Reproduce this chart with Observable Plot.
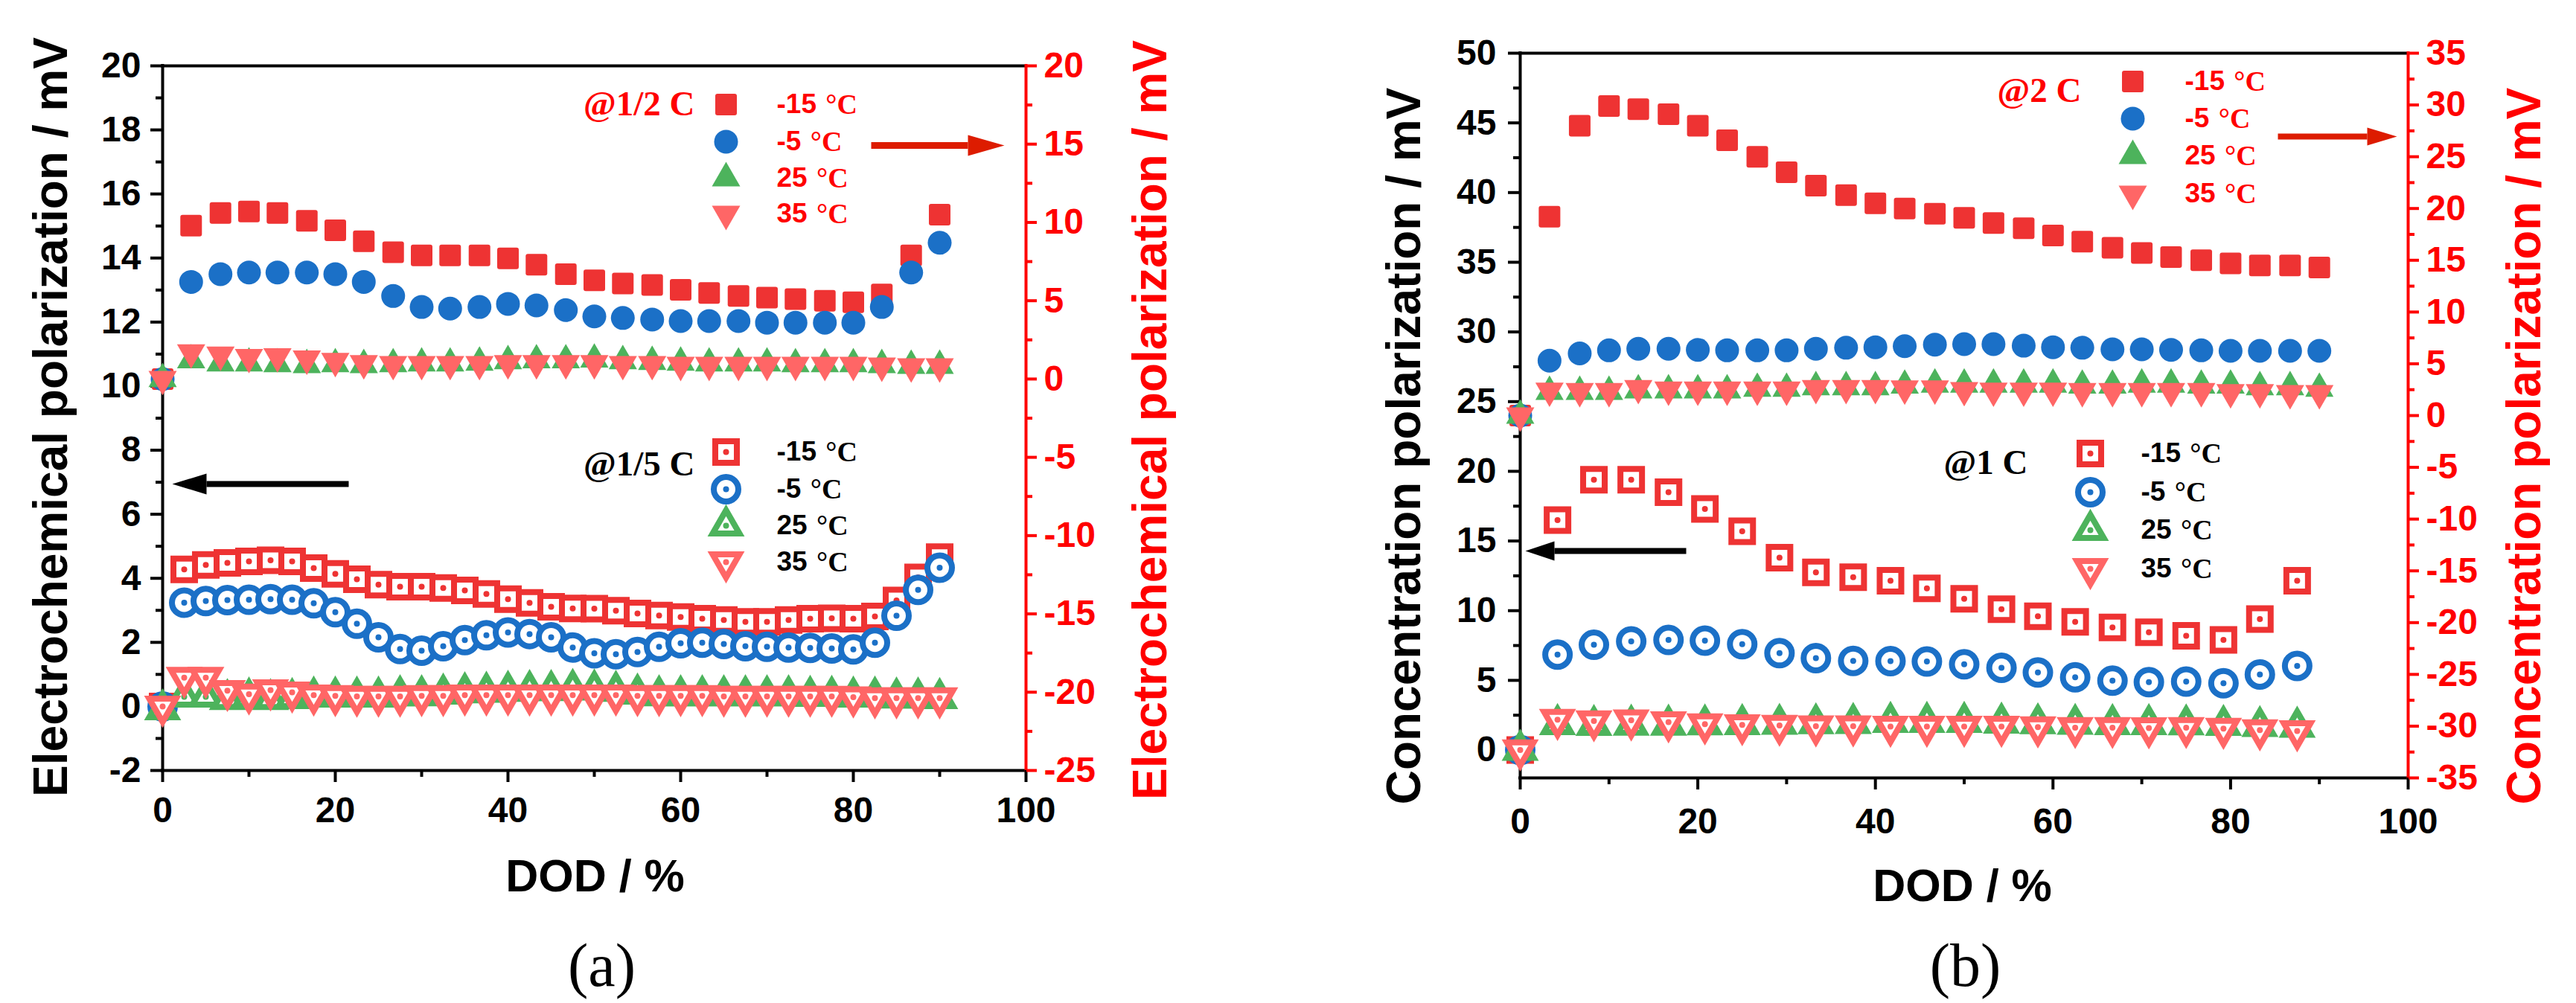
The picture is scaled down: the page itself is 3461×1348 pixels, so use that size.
<!DOCTYPE html>
<html>
<head>
<meta charset="utf-8">
<script src="https://cdn.jsdelivr.net/npm/d3@7"></script>
<script src="https://cdn.jsdelivr.net/npm/@observablehq/plot@0.6"></script>
<style>
  body { margin: 0; background: #fff; }
  #wrap { position: relative; width: 3461px; height: 1348px; }
  #a, #b { position: absolute; top: 0; }
  #a { left: 0; width: 1730px; }
  #b { left: 1730px; width: 1731px; }
</style>
</head>
<body>
<div id="wrap"><div id="a"></div><div id="b"></div></div>
<script>
// ---------- data ----------
// (a) @1/2 C, plotted on the right axis
const dodHalf = [0, 3.3, 6.7, 10, 13.3, 16.7, 20, 23.3, 26.7, 30, 33.3, 36.7, 40, 43.3, 46.7, 50, 53.3, 56.7, 60, 63.3, 66.7, 70, 73.3, 76.7, 80, 83.3, 86.7, 90]
const half_m15 = [0, 9.8, 10.6, 10.7, 10.6, 10.1, 9.5, 8.8, 8.1, 7.9, 7.9, 7.9, 7.7, 7.3, 6.7, 6.3, 6.1, 6.0, 5.7, 5.5, 5.3, 5.2, 5.1, 5.0, 4.9, 5.4, 7.9, 10.5]
const half_m5 = [0, 6.2, 6.7, 6.8, 6.8, 6.8, 6.7, 6.2, 5.3, 4.6, 4.5, 4.6, 4.8, 4.7, 4.4, 4.0, 3.9, 3.8, 3.7, 3.7, 3.7, 3.6, 3.6, 3.6, 3.6, 4.6, 6.8, 8.7]
const half_25 = [0, 1.2, 1.0, 1.0, 0.95, 0.9, 0.95, 0.9, 0.95, 1.0, 1.0, 1.05, 1.15, 1.2, 1.2, 1.25, 1.15, 1.1, 1.05, 1.0, 1.0, 1.0, 0.95, 0.95, 0.95, 0.9, 0.85, 0.85]
const half_35 = [0, 1.7, 1.55, 1.4, 1.45, 1.3, 1.15, 1.0, 0.95, 0.95, 0.95, 0.95, 1.0, 1.0, 1.0, 1.0, 0.95, 0.95, 0.9, 0.9, 0.9, 0.9, 0.9, 0.9, 0.9, 0.85, 0.8, 0.8]

// (a) @1/5 C, plotted on the left axis
const dodFifth = [0, 2.5, 5, 7.5, 10, 12.5, 15, 17.5, 20, 22.5, 25, 27.5, 30, 32.5, 35, 37.5, 40, 42.5, 45, 47.5, 50, 52.5, 55, 57.5, 60, 62.5, 65, 67.5, 70, 72.5, 75, 77.5, 80, 82.5, 85, 87.5, 90]
const fifth_m15 = [0, 4.28, 4.42, 4.48, 4.53, 4.56, 4.53, 4.32, 4.14, 3.97, 3.80, 3.74, 3.74, 3.70, 3.62, 3.51, 3.35, 3.23, 3.11, 3.06, 3.05, 2.99, 2.90, 2.84, 2.79, 2.74, 2.70, 2.64, 2.64, 2.70, 2.74, 2.75, 2.74, 2.81, 3.31, 4.03, 4.66]
const fifth_m5 = [0, 3.24, 3.29, 3.32, 3.33, 3.35, 3.33, 3.22, 2.94, 2.58, 2.16, 1.79, 1.74, 1.88, 2.07, 2.22, 2.31, 2.26, 2.16, 1.84, 1.66, 1.63, 1.70, 1.86, 1.97, 1.99, 1.95, 1.88, 1.86, 1.84, 1.83, 1.81, 1.78, 1.99, 2.83, 3.64, 4.33]
const fifth_25 = [-0.1, 0.3, 0.3, 0.22, 0.27, 0.22, 0.25, 0.3, 0.3, 0.3, 0.3, 0.34, 0.34, 0.39, 0.43, 0.45, 0.48, 0.5, 0.5, 0.54, 0.52, 0.48, 0.39, 0.34, 0.34, 0.34, 0.34, 0.34, 0.34, 0.34, 0.32, 0.32, 0.3, 0.3, 0.27, 0.27, 0.25]
const fifth_35 = [0, 0.9, 0.9, 0.49, 0.38, 0.51, 0.44, 0.35, 0.33, 0.31, 0.31, 0.31, 0.33, 0.33, 0.35, 0.35, 0.35, 0.35, 0.35, 0.35, 0.35, 0.35, 0.33, 0.33, 0.33, 0.33, 0.31, 0.31, 0.31, 0.31, 0.31, 0.31, 0.29, 0.26, 0.26, 0.26, 0.26]

// (b) @2 C, plotted on the right axis
const dod2C = [0, 3.3, 6.7, 10, 13.3, 16.7, 20, 23.3, 26.7, 30, 33.3, 36.7, 40, 43.3, 46.7, 50, 53.3, 56.7, 60, 63.3, 66.7, 70, 73.3, 76.7, 80, 83.3, 86.7, 90]
const c2_m15 = [0, 19.2, 28.0, 29.9, 29.6, 29.1, 28.0, 26.6, 25.0, 23.5, 22.2, 21.3, 20.5, 20.0, 19.5, 19.1, 18.6, 18.1, 17.4, 16.8, 16.2, 15.7, 15.3, 15.0, 14.7, 14.5, 14.5, 14.3]
const c2_m5 = [0, 5.3, 6.0, 6.3, 6.45, 6.45, 6.35, 6.3, 6.3, 6.3, 6.45, 6.55, 6.6, 6.7, 6.85, 6.9, 6.9, 6.75, 6.6, 6.55, 6.4, 6.4, 6.35, 6.3, 6.25, 6.25, 6.25, 6.25]
const c2_25 = [0, 2.3, 2.3, 2.3, 2.45, 2.45, 2.45, 2.45, 2.6, 2.6, 2.75, 2.75, 2.75, 2.9, 3.0, 3.0, 3.0, 3.0, 3.0, 2.9, 2.9, 3.0, 3.0, 2.9, 2.9, 2.75, 2.75, 2.6]
const c2_35 = [0, 2.4, 2.35, 2.35, 2.65, 2.5, 2.5, 2.5, 2.5, 2.5, 2.65, 2.65, 2.65, 2.6, 2.6, 2.45, 2.4, 2.4, 2.4, 2.35, 2.35, 2.35, 2.35, 2.35, 2.25, 2.25, 2.15, 2.15]

// (b) @1 C, plotted on the left axis
const dod1C = [0, 4.2, 8.3, 12.5, 16.7, 20.8, 25, 29.2, 33.3, 37.5, 41.7, 45.8, 50, 54.2, 58.3, 62.5, 66.7, 70.8, 75, 79.2, 83.3, 87.5]
const c1_m15 = [0, 16.5, 19.4, 19.4, 18.5, 17.3, 15.7, 13.8, 12.75, 12.4, 12.15, 11.6, 10.85, 10.1, 9.6, 9.2, 8.8, 8.45, 8.2, 7.9, 9.4, 12.15]
const c1_m5 = [0, 6.85, 7.55, 7.8, 7.9, 7.85, 7.6, 6.95, 6.6, 6.4, 6.38, 6.35, 6.15, 5.9, 5.57, 5.22, 4.98, 4.88, 4.92, 4.8, 5.42, 6.04]
const c1_25 = [0, 1.84, 1.78, 1.8, 1.8, 1.82, 1.84, 1.86, 1.9, 1.92, 2.0, 2.0, 2.0, 1.95, 1.9, 1.86, 1.84, 1.84, 1.82, 1.78, 1.7, 1.65]
const c1_35 = [0, 2.18, 2.08, 2.14, 2.01, 1.86, 1.8, 1.76, 1.71, 1.71, 1.69, 1.69, 1.69, 1.69, 1.65, 1.6, 1.6, 1.58, 1.6, 1.54, 1.43, 1.37]

// legend entries and ticks
const temps = ["-15", "-5", "25", "35"]
const xTicks = [0, 20, 40, 60, 80, 100]
const xMinor = [10, 30, 50, 70, 90]
const aLeftTicks = [-2, 0, 2, 4, 6, 8, 10, 12, 14, 16, 18, 20]
const aLeftMinor = [-1, 1, 3, 5, 7, 9, 11, 13, 15, 17, 19]
const aRightTicks = [-25, -20, -15, -10, -5, 0, 5, 10, 15, 20]
const aRightMinor = [-22.5, -17.5, -12.5, -7.5, -2.5, 2.5, 7.5, 12.5, 17.5]
const bLeftTicks = [0, 5, 10, 15, 20, 25, 30, 35, 40, 45, 50]
const bLeftMinor = [2.5, 7.5, 12.5, 17.5, 22.5, 27.5, 32.5, 37.5, 42.5, 47.5]
const bRightTicks = [-35, -30, -25, -20, -15, -10, -5, 0, 5, 10, 15, 20, 25, 30, 35]
const bRightMinor = [-32.5, -27.5, -22.5, -17.5, -12.5, -7.5, -2.5, 2.5, 7.5, 12.5, 17.5, 22.5, 27.5, 32.5]

// ---------- styling ----------
const FONT = "Liberation Sans"
const SERIF = "Liberation Serif"
const colors = ["#ee3333", "#1b70c7", "#4db35c", "#ff6666"]
const shapeNames = ["square", "circle", "up", "down"]
const axisRed = "#ff0000"
const arrowRed = "#dd1c00"

function tri(c, s, dir) {
  const h = s * Math.sqrt(3) / 2
  c.moveTo(0, -dir * 2 * h / 3)
  c.lineTo(s / 2, dir * h / 3)
  c.lineTo(-s / 2, dir * h / 3)
  c.closePath()
}
// filled squares have slightly rounded corners in the original
function roundSquare(c, half, r) {
  c.moveTo(-half + r, -half)
  c.arcTo(half, -half, half, half, r)
  c.arcTo(half, half, -half, half, r)
  c.arcTo(-half, half, -half, -half, r)
  c.arcTo(-half, -half, half, -half, r)
  c.closePath()
}
const shapes = {
  filled: {
    square: {draw: c => roundSquare(c, 14.5, 3)},
    circle: {draw: c => { c.moveTo(16, 0); c.arc(0, 0, 16, 0, 2 * Math.PI) }},
    up: {draw: c => tri(c, 38, 1)},
    down: {draw: c => tri(c, 38, -1)}
  },
  open: {
    square: {draw: c => c.rect(-14.5, -14.5, 29, 29)},
    circle: {draw: c => { c.moveTo(16.5, 0); c.arc(0, 0, 16.5, 0, 2 * Math.PI) }},
    up: {draw: c => tri(c, 36, 1)},
    down: {draw: c => tri(c, 36, -1)}
  }
}
function head(len, half, dir) {
  return {draw(c) { c.moveTo(0, 0); c.lineTo(-dir * len, -half); c.lineTo(-dir * len, half); c.closePath() }}
}

const measure = document.createElement("canvas").getContext("2d")
measure.font = `bold 37px "${FONT}"`

function drawPanel(p) {
  const f = p.frame
  const toLeft = d3.scaleLinear(p.rightDomain, p.leftDomain)
  const px = d3.scaleLinear([f.left, f.right], [0, 100])
  const py = d3.scaleLinear([f.bottom, f.top], p.leftDomain)
  const tickText = {fontFamily: FONT, fontSize: 48, fontWeight: "bold", tickFormat: d => String(d), label: null}
  const marks = [
    Plot.ruleY(p.leftDomain, {stroke: "black", strokeWidth: 4, strokeLinecap: "square"}),
    Plot.ruleX([0], {stroke: "black", strokeWidth: 4, strokeLinecap: "square"}),
    Plot.ruleX([100], {stroke: axisRed, strokeWidth: 4, strokeLinecap: "square"}),
    Plot.axisX(xMinor, {anchor: "bottom", tickSize: 9, strokeWidth: 4, stroke: "black", fill: "none", label: null}),
    Plot.axisX(xTicks, {anchor: "bottom", tickSize: 16, tickPadding: p.xPad, strokeWidth: 4, color: "black", ...tickText}),
    Plot.axisY(p.leftMinor, {anchor: "left", tickSize: 9, strokeWidth: 4, stroke: "black", fill: "none", label: null}),
    Plot.axisY(p.leftTicks, {anchor: "left", tickSize: 16, tickPadding: p.yPad, strokeWidth: 4, color: "black", ...tickText}),
    Plot.axisY(p.rightMinor, {anchor: "right", y: toLeft, tickSize: 8, strokeWidth: 4, stroke: axisRed, fill: "none", label: null}),
    Plot.axisY(p.rightTicks, {anchor: "right", y: toLeft, tickSize: 14, tickPadding: 10, strokeWidth: 4, color: axisRed, ...tickText})
  ]

  for (const g of p.groups) {
    const conv = g.right ? toLeft : d => d
    g.series.forEach((vals, i) => {
      const rows = g.x.map((d, j) => ({dod: d, v: conv(vals[j])}))
      const lg = [{dod: px(g.markX), v: py(g.rows[i])}]
      for (const data of [rows, lg]) {
        if (g.open) {
          marks.push(Plot.dot(data, {x: "dod", y: "v", symbol: shapes.open[shapeNames[i]], fill: "white", stroke: colors[i], strokeWidth: 8, strokeLinejoin: "miter"}))
          marks.push(Plot.dot(data, {x: "dod", y: "v", r: 4, fill: colors[i], stroke: "none"}))
        } else {
          marks.push(Plot.dot(data, {x: "dod", y: "v", symbol: shapes.filled[shapeNames[i]], fill: colors[i], stroke: "none"}))
        }
      }
      // legend label: number in bold sans, unit in bold serif
      const w = measure.measureText(temps[i] + " ").width + 2
      marks.push(Plot.text([temps[i]], {x: px(g.textX), y: py(g.rows[i]), text: d => d, textAnchor: "start", fontFamily: FONT, fontWeight: "bold", fontSize: 37, fill: g.textColor}))
      marks.push(Plot.text(["°C"], {x: px(g.textX + w), y: py(g.rows[i]), text: d => d, textAnchor: "start", fontFamily: SERIF, fontWeight: "bold", fontSize: 38, fill: g.textColor}))
    })
    marks.push(Plot.text([g.name], {x: px(g.nameX), y: py(g.nameY), text: d => d, textAnchor: "end", fontFamily: SERIF, fontWeight: "bold", fontSize: 47, fill: g.textColor}))
  }

  // arrows
  for (const a of p.arrows) {
    marks.push(Plot.link([a], {x1: d => px(d.from), x2: d => px(d.base), y1: d => py(d.y), y2: d => py(d.y), stroke: a.color, strokeWidth: a.w}))
    marks.push(Plot.dot([a], {x: d => px(d.tip), y: d => py(d.y), symbol: head(Math.abs(a.tip - a.base), a.half, Math.sign(a.tip - a.base)), fill: a.color, stroke: "none"}))
  }

  // axis titles and panel tag
  marks.push(
    Plot.text([p.yTitle], {x: px(p.titleL[0]), y: py(p.titleL[1]), text: d => d, rotate: -90, fontFamily: FONT, fontWeight: "bold", fontSize: 64, fill: "black"}),
    Plot.text([p.yTitle], {x: px(p.titleR[0]), y: py(p.titleR[1]), text: d => d, rotate: -90, fontFamily: FONT, fontWeight: "bold", fontSize: 64, fill: axisRed}),
    Plot.text(["DOD / %"], {x: px(p.xTitle[0]), y: py(p.xTitle[1]), text: d => d, fontFamily: FONT, fontWeight: "bold", fontSize: 61, fill: "black"}),
    Plot.text([p.tag], {x: px(p.tagPos[0]), y: py(p.tagPos[1]), text: d => d, fontFamily: SERIF, fontSize: 82, fill: "black"})
  )

  const plot = Plot.plot({
    width: p.width,
    height: 1348,
    marginLeft: f.left,
    marginRight: p.width - f.right,
    marginTop: f.top,
    marginBottom: 1348 - f.bottom,
    x: {domain: [0, 100], axis: null},
    y: {domain: p.leftDomain, axis: null},
    style: {fontFamily: FONT, background: "white", overflow: "visible", maxWidth: "none"},
    marks
  })
  const div = document.querySelector(p.el)
  div.innerText = ''
  div.append(plot)
}

drawPanel({
  el: "#a", width: 1730, tag: "(a)",
  frame: {left: 218, right: 1378, top: 88, bottom: 1035},
  leftDomain: [-2, 20], rightDomain: [-25, 20],
  leftTicks: aLeftTicks, leftMinor: aLeftMinor, rightTicks: aRightTicks, rightMinor: aRightMinor,
  xPad: 19, yPad: 13,
  yTitle: "Electrochemical polarization / mV",
  titleL: [69, 560], titleR: [1546, 564], xTitle: [799, 1178], tagPos: [808, 1298],
  groups: [
    {right: true, open: false, x: dodHalf, series: [half_m15, half_m5, half_25, half_35],
     name: "@1/2 C", nameX: 933, nameY: 139, markX: 975, textX: 1043, rows: [140, 190, 239, 287], textColor: axisRed},
    {right: false, open: true, x: dodFifth, series: [fifth_m15, fifth_m5, fifth_25, fifth_35],
     name: "@1/5 C", nameX: 933, nameY: 623, markX: 975, textX: 1043, rows: [607, 657, 706, 755], textColor: "black"}
  ],
  arrows: [
    {from: 1170, base: 1300, tip: 1349, y: 195, half: 14, w: 9, color: arrowRed},
    {from: 468, base: 277, tip: 231, y: 650, half: 14, w: 8, color: "black"}
  ]
})

drawPanel({
  el: "#b", width: 1731, tag: "(b)",
  frame: {left: 312, right: 1505, top: 71, bottom: 1045},
  leftDomain: [-2, 50], rightDomain: [-35, 35],
  leftTicks: bLeftTicks, leftMinor: bLeftMinor, rightTicks: bRightTicks, rightMinor: bRightMinor,
  xPad: 24, yPad: 16,
  yTitle: "Concentration polarization / mV",
  titleL: [157, 599], titleR: [1662, 599], xTitle: [906, 1191], tagPos: [910, 1298],
  groups: [
    {right: true, open: false, x: dod2C, series: [c2_m15, c2_m5, c2_25, c2_35],
     name: "@2 C", nameX: 1066, nameY: 121, markX: 1135, textX: 1205, rows: [109, 159, 209, 260], textColor: axisRed},
    {right: false, open: true, x: dod1C, series: [c1_m15, c1_m5, c1_25, c1_35],
     name: "@1 C", nameX: 994, nameY: 621, markX: 1078, textX: 1146, rows: [609, 661, 712, 764], textColor: "black"}
  ],
  arrows: [
    {from: 1330, base: 1450, tip: 1490, y: 183, half: 12, w: 8, color: arrowRed},
    {from: 535, base: 358, tip: 319, y: 740, half: 13, w: 8, color: "black"}
  ]
})
</script>
</body>
</html>
